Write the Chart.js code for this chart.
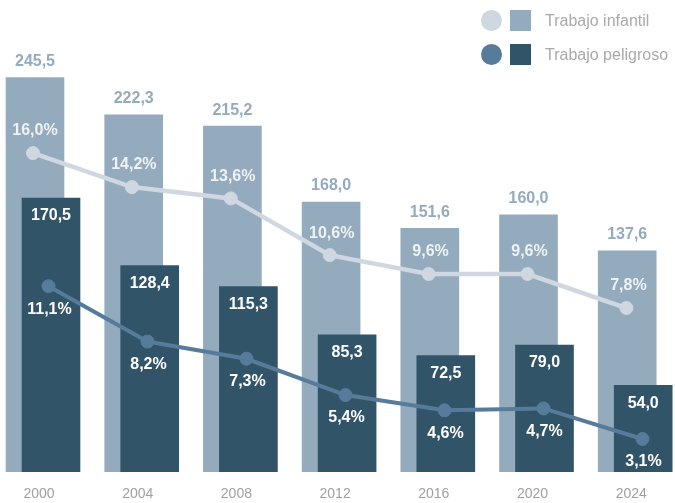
<!DOCTYPE html>
<html>
<head>
<meta charset="utf-8">
<script src="https://cdn.jsdelivr.net/npm/chart.js@4/dist/chart.umd.min.js"></script>
<style>
  html, body { margin: 0; padding: 0; background: #fff; }
  #wrap { position: relative; width: 675px; height: 503px; }
  canvas { display: block; }
  .lg { position: absolute; left: 480px; font-family: "Liberation Sans", Arial, sans-serif; font-size: 16px; color: #a9a9a9; height: 22px; }
  .lg .c { position: absolute; left: 1px; top: 0; width: 21px; height: 21px; border-radius: 50%; }
  .lg .s { position: absolute; left: 30px; top: 0; width: 21px; height: 21px; }
  .lg .t { position: absolute; left: 65px; top: 1px; white-space: nowrap; line-height: 20px; }
</style>
</head>
<body>
<div id="wrap">
  <canvas id="c" width="675" height="503"></canvas>
  <div class="lg" style="top:10px"><div class="c" style="background:#cfd8e1"></div><div class="s" style="background:#94abbe"></div><div class="t">Trabajo infantil</div></div>
  <div class="lg" style="top:44px"><div class="c" style="background:#577b9a"></div><div class="s" style="background:#325469"></div><div class="t">Trabajo peligroso</div></div>
</div>
<script>
const years = ['2000', '2004', '2008', '2012', '2016', '2020', '2024'];
const childLabour = [245.5, 222.3, 215.2, 168.0, 151.6, 160.0, 137.6];
const hazardousWork = [170.5, 128.4, 115.3, 85.3, 72.5, 79.0, 54.0];
const childLabourPct = [16.0, 14.2, 13.6, 10.6, 9.6, 9.6, 7.8];
const hazardousPct = [11.1, 8.2, 7.3, 5.4, 4.6, 4.7, 3.1];

const W = 675;
function xAxis(c0, s) {
  return { type: 'linear', display: false, offset: false, min: -c0 / s, max: (W - c0) / s };
}
const pts = arr => arr.map((v, i) => ({ x: i, y: v }));
const fmt = v => v.toFixed(1).replace('.', ',');
const FONT = '"Liberation Sans", Arial, sans-serif';

const labelPlugin = {
  id: 'valueLabels',
  afterDatasetsDraw(chart) {
    const ctx = chart.ctx;
    ctx.save();
    ctx.textAlign = 'center';
    ctx.textBaseline = 'middle';
    ctx.font = 'bold 16px ' + FONT;
    chart.data.datasets.forEach((ds, di) => {
      const meta = chart.getDatasetMeta(di);
      meta.data.forEach((el, i) => {
        const v = ds.data[i].y;
        const L = ds.lbl;
        ctx.fillStyle = L.color;
        ctx.fillText(fmt(v) + (L.pct ? '%' : ''), el.x + L.dx, el.y + L.dy);
      });
    });
    // year labels along the bottom, positioned by the xt scale
    const xt = chart.scales.xt;
    ctx.font = '14px ' + FONT;
    ctx.fillStyle = '#a0a0a0';
    years.forEach((y, i) => ctx.fillText(y, xt.getPixelForValue(i), chart.chartArea.bottom + 22));
    ctx.restore();
  }
};

new Chart(document.getElementById('c'), {
  data: {
    datasets: [
      { type: 'line', data: pts(childLabourPct), xAxisID: 'xlp', yAxisID: 'ylp',
        borderColor: '#cfd8e1', backgroundColor: '#cfd8e1', borderWidth: 4.5,
        pointRadius: 6.5, pointBorderWidth: 1, pointBackgroundColor: '#cfd8e1', pointBorderColor: '#cfd8e1',
        tension: 0, order: 1, clip: false, lbl: { color: '#eef2f5', dx: 2, dy: -22, pct: true } },
      { type: 'line', data: pts(hazardousPct), xAxisID: 'xdp', yAxisID: 'ydp',
        borderColor: '#577b9a', backgroundColor: '#577b9a', borderWidth: 4,
        pointRadius: 6.5, pointBorderWidth: 1, pointBackgroundColor: '#577b9a', pointBorderColor: '#577b9a',
        tension: 0, order: 0, clip: false, lbl: { color: '#ffffff', dx: 1, dy: 23, pct: true } },
      { type: 'bar', data: pts(hazardousWork), xAxisID: 'xdb', yAxisID: 'y',
        backgroundColor: '#325469', grouped: false, barThickness: 58, maxBarThickness: 58, order: 2,
        lbl: { color: '#ffffff', dx: 0, dy: 18, pct: false } },
      { type: 'bar', data: pts(childLabour), xAxisID: 'xlb', yAxisID: 'y',
        backgroundColor: '#94abbe', grouped: false, barThickness: 58, maxBarThickness: 58, order: 3,
        lbl: { color: '#94abbe', dx: 0, dy: -16, pct: false } }
    ]
  },
  options: {
    responsive: false,
    animation: false,
    layout: { autoPadding: false, padding: { left: 0, right: 0, top: 0, bottom: 31 } },
    plugins: { legend: { display: false }, tooltip: { enabled: false } },
    scales: {
      xt: xAxis(39, 98.7),
      xlb: xAxis(35, 98.7),
      xdb: xAxis(51, 98.7),
      xlp: xAxis(33, 98.9),
      xdp: xAxis(48.5, 99),
      y: { type: 'linear', display: false, min: 0, max: 293.7 },
      ylp: { type: 'linear', display: false, min: -0.878, max: 24.10 },
      ydp: { type: 'linear', display: false, min: 1.372, max: 26.08 }
    }
  },
  plugins: [labelPlugin]
});
</script>
</body>
</html>
